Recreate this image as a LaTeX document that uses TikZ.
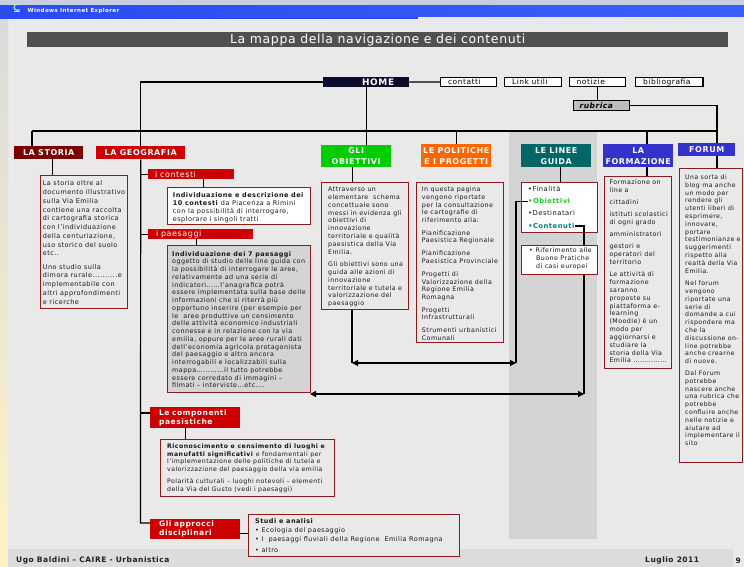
\documentclass[tikz,border=0pt]{standalone}
\usepackage{fontspec}
\setmainfont{DejaVu Sans}[LetterSpace=7]
\newfontfamily\titlefam{DejaVu Sans}[LetterSpace=5]
\usetikzlibrary{arrows.meta,calc}

% palette
\definecolor{slidebg}{HTML}{E9E9E9}
\definecolor{footbg}{HTML}{DCDCDC}
\definecolor{bandgray}{HTML}{D3D3D3}
\definecolor{titlegray}{HTML}{505050}
\definecolor{ieblueL}{HTML}{2A4BEF}
\definecolor{ieblueR}{HTML}{3D5EFF}
\definecolor{ietop}{HTML}{CACEDC}
\definecolor{iconcol}{HTML}{BFE6FF}
\definecolor{stripTop}{HTML}{DADADA}
\definecolor{stripBot}{HTML}{FFF3C4}
\definecolor{homenavy}{HTML}{0B0B2E}
\definecolor{rubgray}{HTML}{BDBDBD}
\definecolor{boxred}{HTML}{8E1B1B}
\definecolor{darkred}{HTML}{7A0000}
\definecolor{geored}{HTML}{CC0000}
\definecolor{obgreen}{HTML}{00CC00}
\definecolor{polorange}{HTML}{FF6600}
\definecolor{linteal}{HTML}{006666}
\definecolor{forblue}{HTML}{3333CC}
\definecolor{paesgray}{HTML}{D4D4D4}
\definecolor{itemgreen}{HTML}{22CC22}
\definecolor{itemteal}{HTML}{008080}

\newcommand\fsz[2]{\fontsize{#1}{#2}\selectfont}

\tikzset{
  hdr/.style={fill=#1, text=white, anchor=north west, inner sep=0pt, align=center,
    font=\bfseries\fsz{8}{11}},
  subhdr/.style={fill=geored, text=white, anchor=north west, inner ysep=0pt, align=left},
  tbox/.style={draw=boxred, line width=1.3pt, fill=#1, anchor=north west, inner sep=0pt},
  tbox/.default=slidebg,
  txt/.style={anchor=north west, inner sep=0pt, align=left, text=black!90},
  navbox/.style={draw=black, line width=1.2pt, fill=white, anchor=north west,
    inner ysep=0pt, inner xsep=7.5pt, minimum height=9pt, text width=#1, align=left,
    font=\fsz{7.5}{9}},
  link/.style={draw=black, line width=1.2pt},
  dblarrow/.style={link, {Triangle[length=6pt,width=6pt]}-{Triangle[length=6pt,width=6pt]}},
  foot/.style={anchor=west, inner sep=0pt, text=black!88, font=\bfseries\fsz{7.5}{9}},
}

\begin{document}
\begin{tikzpicture}[x=1pt,y=-1pt]
\useasboundingbox (0,0) rectangle (744,567);

% ---------- browser frame and slide background ----------
\fill[ietop] (0,0) rectangle (744,6);
\shade[left color=ieblueL, right color=ieblueR] (0,5.5) rectangle (744,17);
\fill[slidebg] (0,17) rectangle (744,567);
\fill[ieblueL] (0,17) rectangle (418,19.5);
\shade[top color=stripTop, bottom color=stripBot] (0,19.5) rectangle (8,567);
\fill[footbg] (8,549) rectangle (733,567);
\draw[iconcol, line width=1.1pt] (19.5,9.5) arc[start angle=45, end angle=315, radius=3.2];
\draw[iconcol, line width=0.8pt] (13.5,11.8) -- (19.5,11.8);
\node[anchor=west, inner sep=0pt, text=white, font=\bfseries\fsz{5.5}{6}] (ietitle) at (27.5,11.3) {Windows Internet Explorer};

% column band behind the guidelines
\fill[bandgray] (509,132) rectangle (597,539);

% ---------- title ----------
\node[fill=titlegray, anchor=north west, minimum width=701, minimum height=15, inner sep=0pt,
  text=white, font=\titlefam\fsz{12.5}{14}] (title) at (27,32) {La mappa della navigazione e dei contenuti};

% ---------- navigation bar ----------
\node[fill=homenavy, anchor=north west, minimum width=86, minimum height=9.5, inner ysep=0pt,
  inner xsep=15pt, text width=56, align=right, text=white, font=\bfseries\fsz{9}{10}] (home) at (323,77) {HOME};
\node[navbox=41] (contatti) at (440,77) {contatti};
\node[navbox=42] (linkutili) at (504,77) {Link utili};
\node[navbox=41] (notizie) at (568.6,77) {notizie};
\node[navbox=52.4] (biblio) at (635,77) {bibliografia};
\node[draw=black, line width=1.2pt, fill=rubgray, anchor=north west, inner ysep=0pt, inner xsep=6pt,
  text width=44, minimum height=10, align=left, font=\bfseries\itshape\fsz{7.5}{9}] (rubrica) at (573,100) {rubrica};

\coordinate (busL) at (32,131);
\coordinate (busR) at (717,131);
\coordinate (forTap) at (647,131);
\coordinate (spineEnd) at (140.5,523);
\coordinate (compTap) at (140.5,413);

% ---------- section headers ----------
\node[hdr=darkred, minimum width=69, minimum height=13] (storiaH) at (14,146) {LA STORIA};
\node[hdr=geored, minimum width=89, minimum height=13] (geoH) at (96,146) {LA GEOGRAFIA};
\node[hdr=obgreen, minimum width=70, minimum height=22] (obH) at (321,145) {GLI\\OBIETTIVI};
\node[hdr=polorange, minimum width=70, minimum height=23] (polH) at (421,144) {LE POLITICHE\\E I PROGETTI};
\node[hdr=linteal, minimum width=70, minimum height=23] (linH) at (521,144) {LE LINEE\\GUIDA};
\node[hdr=forblue, minimum width=70, minimum height=23] (forH) at (603,144) {LA\\FORMAZIONE};
\node[hdr=forblue, minimum width=57, minimum height=13] (forumH) at (678,143) {FORUM};

\node[subhdr, text width=72, inner xsep=7pt, minimum height=10, font=\fsz{8}{9}] (contH) at (148,169) {i contesti};
\node[subhdr, text width=89, inner xsep=8pt, minimum height=10, font=\fsz{8}{9}] (paesH) at (148,229) {i paesaggi};
\node[subhdr, text width=72, inner xsep=9pt, minimum height=21, font=\bfseries\fsz{7.5}{9.4}] (compH) at (150,407) {Le componenti\\paesistiche};
\node[subhdr, text width=72, inner xsep=9pt, minimum height=20, font=\bfseries\fsz{7.5}{9}] (approcciH) at (150,519) {Gli approcci\\disciplinari};

% ---------- content boxes ----------
\node[tbox, minimum width=87, minimum height=133] (storiaB) at (40,175) {};
\node[txt, font=\fsz{6.5}{8.75}] (storiaT) at ($(storiaB.north west)+(2.7,5.7)$) {La storia oltre al\\documento illustrativo\\sulla Via Emilia\\contiene una raccolta\\di cartografia storica\\con l'individuazione\\della centuriazione,\\uso storico del suolo\\etc..\\[4.6pt]Uno studio sulla\\dimora rurale..........e\\implementabile con\\altri approfondimenti\\e ricerche};

\node[tbox=white, minimum width=143, minimum height=37] (contB) at (167,187) {};
\node[txt, font=\fsz{6.5}{8.1}] (contT) at ($(contB.north west)+(5.7,5)$) {\textbf{Individuazione e descrizione dei}\\\textbf{10 contesti} da Piacenza a Rimini\\con la possibilità di interrogare,\\esplorare i singoli tratti};

\node[tbox=paesgray, minimum width=143, minimum height=147] (paesB) at (167,245) {};
\node[txt, font=\fsz{6.4}{7.76}] (paesT) at ($(paesB.north west)+(5,6)$) {\textbf{Individuazione dei 7 paesaggi}\\oggetto di studio delle line guida con\\la possibilità di interrogare le aree,\\relativamente ad una serie di\\indicatori……l'anagrafica potrà\\essere implementata sulla base delle\\informazioni che si riterrà più\\opportuno inserire (per esempio per\\le\ \ aree produttive un censimento\\delle attività economico industriali\\connesse e in relazione con la via\\emilia, oppure per le aree rurali dati\\dell'economia agricola protagonista\\del paesaggio e altro ancora\\interrogabili e localizzabili sulla\\mappa…………il tutto potrebbe\\essere corredato di immagini –\\filmati – interviste…etc….};

\node[tbox, minimum width=174, minimum height=57] (compB) at (160,439) {};
\node[txt, font=\fsz{6.2}{7.6}] (compT) at ($(compB.north west)+(7,4.5)$) {\textbf{Riconoscimento e censimento di luoghi e}\\\textbf{manufatti significativi} e fondamentali per\\l'implementazione delle politiche di tutela e\\valorizzazione del paesaggio della via emilia\\[4.8pt]Polarità culturali – luoghi notevoli – elementi\\della Via del Gusto (vedi i paesaggi)};

\node[tbox, minimum width=211, minimum height=42] (studiB) at (248,514) {};
\node[txt, font=\fsz{6.5}{8.8}] (studiT) at ($(studiB.north west)+(7,4.5)$) {\textbf{Studi e analisi}\\• Ecologia del paesaggio\\• I\ \ paesaggi fluviali della Regione\ \ Emilia Romagna\\[2.6pt]• altro};

\node[tbox, minimum width=87, minimum height=127] (obB) at (321,182) {};
\node[txt, font=\fsz{6.3}{7.8}] (obT) at ($(obB.north west)+(7,5)$) {Attraverso un\\elementare\ \ schema\\concettuale sono\\messi in evidenza gli\\obiettivi di\\innovazione\\territoriale e qualità\\paesistica della Via\\Emilia.\\[4.8pt]Gli obiettivi sono una\\guida alle azioni di\\innovazione\\territoriale e tutela e\\valorizzazione del\\paesaggio};

\node[tbox, minimum width=87, minimum height=160] (polB) at (416,182) {};
\node[txt, font=\fsz{6.3}{7.6}] (polT) at ($(polB.north west)+(5.7,5)$) {In questa pagina\\vengono riportate\\per la consultazione\\le cartografie di\\riferimento alla:\\[5.4pt]Pianificazione\\Paesistica Regionale\\[5.4pt]Pianificazione\\Paesistica Provinciale\\[5.4pt]Progetti di\\Valorizzazione della\\Regione Emilia\\Romagna\\[5.4pt]Progetti\\Infrastrutturali\\[5.4pt]Strumenti urbanistici\\Comunali};

\node[tbox=white, minimum width=76, minimum height=50] (lin1B) at (521,182) {};
\node[txt, anchor=west, font=\fsz{6.8}{8}] (itemFin) at (528,189.3) {•Finalità};
\node[txt, anchor=west, font=\bfseries\fsz{6.8}{8}, text=itemgreen] (itemOb) at (528,201.3) {•Obiettivi};
\node[txt, anchor=west, font=\fsz{6.8}{8}] (itemDest) at (528,213.3) {•Destinatari};
\node[txt, anchor=west, font=\bfseries\fsz{6.8}{8}, text=itemteal] (itemCont) at (528,226) {•Contenuti};

\node[tbox, minimum width=67, minimum height=192] (forB) at (604,176) {};
\node[txt, font=\fsz{6.3}{7.85}] (forT) at ($(forB.north west)+(5.3,3.5)$) {Formazione on\\line a\\[4.3pt]cittadini\\[4.3pt]istituti scolastici\\di ogni grado\\[4.3pt]amministratori\\[4.3pt]gestori e\\operatori del\\territorio\\[4.3pt]Le attività di\\formazione\\saranno\\proposte su\\piattaforma e-\\learning\\(Moodle) è un\\modo per\\aggiornarsi e\\studiare la\\storia della Via\\Emilia ……………};

\node[tbox, minimum width=63, minimum height=294] (forumB) at (679,168) {};
\node[txt, font=\fsz{6.2}{7.8}] (forumT) at ($(forumB.north west)+(6,6.5)$) {Una sorta di\\blog ma anche\\un modo per\\rendere gli\\utenti liberi di\\esprimere,\\innovare,\\portare\\testimonianze e\\suggerimenti\\rispetto alla\\realtà della Via\\Emilia.\\[4.9pt]Nel forum\\vengono\\riportate una\\serie di\\domande a cui\\rispondere ma\\che la\\discussione on-\\line potrebbe\\anche crearne\\di nuove.\\[3.9pt]Dal Forum\\potrebbe\\nascere anche\\una rubrica che\\potrebbe\\confluire anche\\nelle notizie e\\aiutare ad\\implementare il\\sito};

% ---------- connectors ----------
\draw[link] (home.west) -| (geoH.north);
\draw[link] (home.south) -- (home.south |- obH.north);
\draw[link] (home.east) -- (contatti.west);
\draw[link] (notizie.south) -- (notizie.south |- rubrica.north);
\draw[link] (rubrica.east) -| (busR);
\draw[link] (busL) -- (busR);
\draw[link] (busL) -- (busL |- storiaH.north);
\draw[link] (busR) -- (busR |- forumH.north);
\draw[link] (polH.north |- busL) -- (polH.north);
\draw[link] (forTap) -- (forTap |- forH.north);
\draw[link] (forTap |- forH.south) -- (forTap |- forB.north);
\draw[link] (busR |- forumH.south) -- (busR |- forumB.north);
\draw[link] ([xshift=3.5pt]storiaH.south) -- ([xshift=3.5pt]storiaH.south |- storiaB.north);
\draw[link] ([xshift=-4pt]obH.south) -- ([xshift=-4pt]obH.south |- obB.north);
\draw[link] ([xshift=4pt]linH.south) -- ([xshift=4pt]linH.south |- lin1B.north);

% geography tree
\draw[link] (geoH.south) -- (spineEnd) -- (spineEnd -| approcciH.west);
\draw[link] (contH.west -| spineEnd) -- (contH.west);
\draw[link] (paesH.west -| spineEnd) -- (paesH.west);
\draw[link] (compTap) -- (compTap -| compH.west);
\draw[link] ([xshift=12pt]contH.south) -- ([xshift=12pt]contH.south |- contB.north);
\draw[link] ([xshift=-4.5pt]paesH.south) -- ([xshift=-4.5pt]paesH.south |- paesB.north);
\draw[link] ([xshift=-10pt]compH.south) -- ([xshift=-10pt]compH.south |- compB.north);
\draw[link] ([yshift=-4pt]approcciH.east) -- ([yshift=-4pt]approcciH.east -| studiB.west);

% cross links between objectives, landscapes and guidelines
\coordinate (aL) at (352,363);
\coordinate (aR) at (516,363);
\coordinate (bL) at (310,394);
\coordinate (bR) at (584,394);
\draw[link] (aL |- obB.south) -- (aL);
\draw[dblarrow] (aL) -- (aR);
\draw[link] (aR) |- (itemOb.west);
\draw[dblarrow] (bL) -- (bR);
\draw[link] (bR) |- (itemCont.east);

% second guideline box sits over the link
\node[tbox=white, minimum width=76, minimum height=29] (lin2B) at (521,245) {};
\node[txt, font=\fsz{6.3}{8}] (lin2T) at ($(lin2B.north west)+(8,3)$) {•\hspace{2.6pt}Riferimento alle\\\hspace*{7pt}Buone Pratiche\\\hspace*{7pt}di casi europei};

% ---------- footer ----------
\node[foot] (author) at (16,560.5) {Ugo Baldini – CAIRE - Urbanistica};
\node[foot] (date) at (645,560.5) {Luglio 2011};
\node[foot] (pagenum) at (735.5,560.5) {9};
\end{tikzpicture}
\end{document}
